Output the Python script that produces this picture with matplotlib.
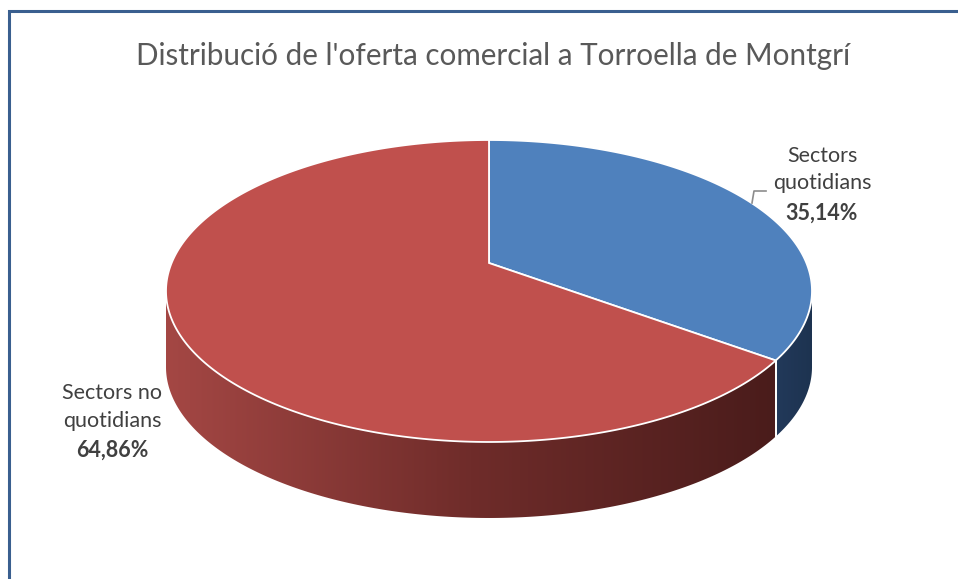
import numpy as np
import matplotlib.pyplot as plt
from matplotlib.patches import Polygon
from matplotlib.colors import LinearSegmentedColormap

# Data
categories = ['Sectors\nquotidians', 'Sectors no\nquotidians']
shares = [35.14, 64.86]
share_labels = ['35,14%', '64,86%']
title = "Distribució de l'oferta comercial a Torroella de Montgrí"

top_colors = ['#4f81bd', '#c0504d']
side_colors = [['#22395a', '#1d3350'], ['#a44744', '#6f2c2a', '#4a1c1b']]

plt.rcParams['font.family'] = ['Lato', 'DejaVu Sans']

W, H = 958, 579
fig = plt.figure(figsize=(W / 100, H / 100), dpi=100)
ax = fig.add_axes([0, 0, 1, 1])
ax.set_xlim(0, W)
ax.set_ylim(H, 0)
ax.axis('off')

# perspective ellipse of the pie top
CX, CY = 489, 263
A, B, K = 317.4, 145.8, 0.1854
DEPTH = 76


def proj(t_deg, dz=0.0):
    t = np.radians(t_deg)
    u, v = np.cos(t), np.sin(t)
    s = 1.0 / (1.0 + K * v)
    return CX + A * u * s, CY - B * v * s + dz


vis0 = 180 + np.degrees(np.arcsin(K))
vis1 = 360 - np.degrees(np.arcsin(K))

fracs = np.array(shares) / np.sum(shares)
starts = 90 - 360 * np.concatenate([[0], np.cumsum(fracs)[:-1]])
ends = starts - 360 * fracs

# sides
for i in range(len(shares)):
    lo, hi = ends[i], starts[i]
    for shift in (-360, 0, 360):
        a0, a1 = max(lo + shift, vis0), min(hi + shift, vis1)
        if a1 <= a0:
            continue
        t = np.linspace(a0, a1, 200)
        xt, yt = proj(t)
        xb, yb = proj(t[::-1], DEPTH)
        pts = np.column_stack([np.concatenate([xt, xb]), np.concatenate([yt, yb])])
        poly = Polygon(pts, closed=True, facecolor='none', edgecolor='none')
        ax.add_patch(poly)
        cmap = LinearSegmentedColormap.from_list('side%d' % i, side_colors[i])
        grad = np.linspace(0, 1, 256)[None, :]
        xmin, xmax = pts[:, 0].min(), pts[:, 0].max()
        ymin, ymax = pts[:, 1].min(), pts[:, 1].max()
        im = ax.imshow(grad, cmap=cmap, aspect='auto',
                       extent=[xmin, xmax, ymax, ymin], zorder=2)
        im.set_clip_path(poly)

# vertical edges between slices on the side
for a in list(starts) + list(ends):
    aa = a % 360
    if vis0 < aa < vis1:
        x0, y0 = proj(aa)
        x1, y1 = proj(aa, DEPTH)
        ax.plot([x0, x1], [y0, y1], color='white', lw=1.3, zorder=3)

# top faces
for i in range(len(shares)):
    t = np.linspace(starts[i], ends[i], 300)
    x, y = proj(t)
    pts = np.column_stack([np.concatenate([[CX], x]), np.concatenate([[CY], y])])
    ax.add_patch(Polygon(pts, closed=True, facecolor=top_colors[i],
                         edgecolor='white', lw=1.3, zorder=4))

# labels
txt_kw = dict(ha='center', va='center', fontsize=15.5, color='#404040', zorder=6,
              linespacing=1.45)
ax.text(822, 169.5, categories[0], **txt_kw)
ax.text(822, 213, share_labels[0], fontweight='bold', **txt_kw)
ax.text(112, 407, categories[1], **txt_kw)
ax.text(112, 450, share_labels[1], fontweight='bold', **txt_kw)

ax.plot([752, 754, 766], [203, 191, 191], color='#8c8c8c', lw=1.2, zorder=6)

ax.text(493, 56, title, ha='center', va='center', fontsize=21.3, color='#595959')

# chart frame
ax.plot([9, 9, W + 5], [H + 5, 11, 11], color='#3a5f8f', lw=2.2, zorder=7,
        solid_joinstyle='miter')

fig.savefig('out.png', dpi=100)
